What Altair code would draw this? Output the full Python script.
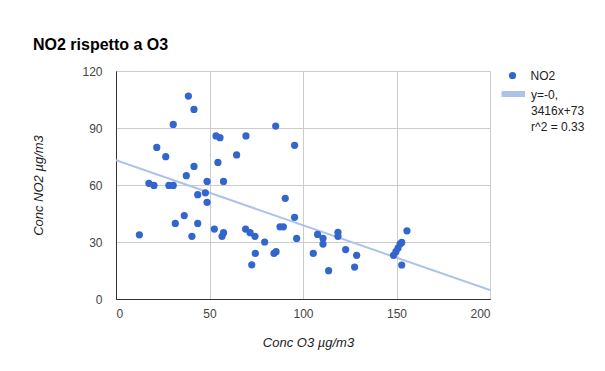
import altair as alt
import pandas as pd

# Data
o3 = [12.5, 17.6, 20.3, 21.8, 26.6, 28.3, 30.6, 30.6, 31.7, 36.5, 37.6, 38.7, 40.6, 41.7, 41.7,
      43.7, 43.7, 47.8, 48.7, 48.7, 52.6, 53.5, 55.6, 54.5, 56.7, 57.5, 57.5, 64.5, 69.5, 69.3,
      71.7, 72.6, 74.5, 74.3, 79.5, 85.4, 84.5, 85.6, 87.7, 89.5, 90.5, 95.5, 95.5, 96.6, 105.5,
      107.8, 110.7, 110.7, 113.7, 118.7, 118.7, 122.8, 127.6, 128.7, 148.4, 149.7, 150.8, 151.9,
      152.8, 152.8, 155.6]
no2 = [33.8, 60.9, 59.8, 79.8, 74.9, 59.8, 59.8, 91.9, 39.8, 43.9, 64.9, 106.8, 33, 99.8, 69.8,
       54.9, 39.8, 55.9, 61.9, 50.9, 36.8, 85.8, 84.9, 71.9, 33, 34.9, 61.9, 75.8, 85.8, 36.8,
       34.9, 18, 24, 33, 30, 91, 24, 24.9, 38, 38, 53, 80.9, 43, 31.9, 24,
       34, 31.9, 28.9, 14.9, 35.1, 33, 26, 16.8, 23, 23, 24.9, 26.8, 28.9,
       29.8, 17.9, 35.9]

# Trendline coefficients (from the legend)
trend_slope = -0.3416
trend_intercept = 73
trend_x = [0, 200]

x_ticks = [0, 50, 100, 150, 200]
y_ticks = [0, 30, 60, 90, 120]

series_label = ["NO2"]
trend_label = ["y=-0,", "3416x+73", "r^2 = 0.33"]

FONT = "Arial, Liberation Sans, sans-serif"
BLUE = "#3366CC"
TREND = "#ADC2EB"

df = pd.DataFrame({"o3": o3, "no2": no2})
trend_df = pd.DataFrame({"o3": trend_x})

xscale = alt.Scale(domain=[0, 200], nice=False, zero=False)
yscale = alt.Scale(domain=[0, 120], nice=False)

grid_col = alt.condition("datum.value === 0", alt.value("#333333"), alt.value("#CCCCCC"))

xaxis = alt.Axis(values=x_ticks, title="Conc O3 µg/m3", titleFont=FONT, titleFontSize=13,
                 titleFontStyle="italic", titleFontWeight="normal", titleColor="#222",
                 titlePadding=17, titleX=192, labelFont=FONT, labelFontSize=12, labelColor="#444",
                 labelPadding=9, ticks=False, domainColor="#333", gridColor=grid_col)
yaxis = alt.Axis(values=y_ticks, title="Conc NO2 µg/m3", titleFont=FONT, titleFontSize=13,
                 titleFontStyle="italic", titleFontWeight="normal", titleColor="#222",
                 titlePadding=36, labelFont=FONT, labelFontSize=12, labelColor="#444",
                 labelPadding=14, ticks=False, domainColor="#333", gridColor=grid_col)

trend = alt.Chart(trend_df).transform_calculate(
    no2=f"{trend_intercept} + ({trend_slope}) * datum.o3"
).mark_line(color=TREND, strokeWidth=2, clip=True).encode(
    x=alt.X("o3:Q", scale=xscale, axis=xaxis),
    y=alt.Y("no2:Q", scale=yscale, axis=yaxis),
)

points = alt.Chart(df).mark_circle(color=BLUE, size=52, opacity=1).encode(
    x=alt.X("o3:Q", scale=xscale, axis=xaxis),
    y=alt.Y("no2:Q", scale=yscale, axis=yaxis),
)

# Manual legend
leg_pt = alt.Chart(pd.DataFrame({"label": series_label})).mark_circle(
    color=BLUE, size=52, opacity=1).encode(x=alt.value(396.5), y=alt.value(4.5))
leg_pt_text = alt.Chart(pd.DataFrame({"label": series_label})).mark_text(
    align="left", baseline="middle", font=FONT, fontSize=12, color="#222").encode(
    x=alt.value(414.5), y=alt.value(4.5), text="label:N")
leg_rect = alt.Chart(pd.DataFrame({"label": ["trend"]})).mark_rect(color=TREND).encode(
    x=alt.value(385.5), x2=alt.value(409), y=alt.value(20), y2=alt.value(26))
leg_trend_text = alt.Chart(pd.DataFrame({"label": [trend_label]})).mark_text(
    align="left", baseline="alphabetic", font=FONT, fontSize=12, color="#222",
    lineHeight=15.7).encode(x=alt.value(415), y=alt.value(28.3), text="label")

chart = alt.layer(trend, points, leg_pt, leg_pt_text, leg_rect, leg_trend_text).properties(
    width=374, height=228,
    title=alt.TitleParams("NO2 rispetto a O3", anchor="start", font=FONT, fontSize=16,
                          fontWeight="bold", color="#000", baseline="alphabetic", offset=-1),
    autosize=alt.AutoSizeParams(type="none"),
    padding={"left": 108, "top": 63, "right": 95, "bottom": 56},
).configure_view(stroke=None).configure(background="white")

chart.save("out.html", embed_options={"renderer": "svg", "actions": False})
